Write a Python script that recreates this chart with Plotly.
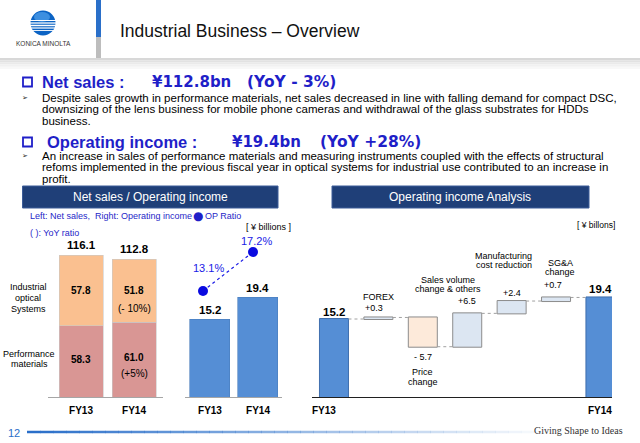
import plotly.graph_objects as go

W, H = 640, 443
def X(p): return p / W
def Y(p): return 1 - p / H

# ---------------- data ----------------
years = ["FY13", "FY14"]
perf_materials = [58.3, 61.0]
ind_optical = [57.8, 51.8]
net_sales_total = [116.1, 112.8]
perf_yoy = ["", "(+5%)"]
opt_yoy = ["", "(- 10%)"]
op_income = [15.2, 19.4]
op_ratio = [13.1, 17.2]

wf_cats = ["FY13", "FOREX", "Price change", "Sales volume", "Manufacturing", "SG&A", "FY14 "]
wf_values = [15.2, 0.3, -5.7, 6.5, 2.4, 0.7, 19.4]
wf_measure = ["absolute", "relative", "relative", "relative", "relative", "relative", "total"]
wf_value_labels = ["15.2", "+0.3", "- 5.7", "+6.5", "+2.4", "+0.7", "19.4"]

BLUE_TXT = "#1f1fc8"
ORANGE = "#FAC090"
PINK = "#D99694"
BARBLUE = "#558ED5"
NAVY = "#1F3F78"
FONT = "Liberation Sans, Arial, sans-serif"
WIDE = "DejaVu Sans, Liberation Sans, sans-serif"
NARROW = "Liberation Sans Narrow, Arial Narrow, Liberation Sans, sans-serif"

fig = go.Figure()

# ---------------- net sales stacked ----------------
fig.add_trace(go.Bar(x=years, y=perf_materials, marker=dict(color=PINK, line=dict(color="#c9c9c9", width=0.6)),
                     width=0.83, xaxis="x", yaxis="y", showlegend=False, hoverinfo="skip"))
fig.add_trace(go.Bar(x=years, y=ind_optical, marker=dict(color=ORANGE, line=dict(color="#c9c9c9", width=0.6)),
                     width=0.83, xaxis="x", yaxis="y", showlegend=False, hoverinfo="skip"))

# ---------------- operating income ----------------
fig.add_trace(go.Bar(x=years, y=op_income, marker=dict(color=BARBLUE, line=dict(color="#4a7dbd", width=0.6)),
                     width=0.833, xaxis="x2", yaxis="y2", showlegend=False, hoverinfo="skip"))
fig.add_trace(go.Scatter(x=years, y=op_ratio, mode="lines+markers", xaxis="x3", yaxis="y3",
                         line=dict(color="#1a1ae6", width=1.2, dash="dot"),
                         marker=dict(color="#0a0ae0", size=10), showlegend=False, hoverinfo="skip"))

# ---------------- waterfall ----------------
fig.add_trace(go.Waterfall(x=wf_cats, y=wf_values, measure=wf_measure, width=0.653,
                           xaxis="x4", yaxis="y4", showlegend=False, hoverinfo="skip",
                           increasing=dict(marker=dict(color="#DCE6F2", line=dict(color="#8c8c8c", width=1))),
                           decreasing=dict(marker=dict(color="#FDEADA", line=dict(color="#8c8c8c", width=1))),
                           totals=dict(marker=dict(color=BARBLUE, line=dict(color="#3f6fae", width=1))),
                           connector=dict(line=dict(color="#a0a0a0", width=1, dash="dot"))))

base_px, top_px = 397, 230
ns_scale = 142 / 116.1
op_scale = 78 / 15.2
ydom = [Y(base_px), Y(top_px)]

tickfont = dict(family=FONT, size=10, color="#000")
fig.update_layout(
    width=W, height=H, margin=dict(l=0, r=0, t=0, b=0),
    paper_bgcolor="white", plot_bgcolor="rgba(0,0,0,0)", barmode="stack",
    xaxis=dict(domain=[X(48), X(163)], anchor="y", range=[-0.623, 1.547], showline=True,
               linecolor="#a6a6a6", linewidth=1, showgrid=False, zeroline=False, ticks="",
               tickvals=years, ticktext=["<b>FY13</b>", "<b>FY14</b>"], tickfont=tickfont, ticklabelstandoff=4),
    yaxis=dict(domain=ydom, range=[0, (base_px - top_px) / ns_scale], visible=False),
    xaxis2=dict(domain=[X(185), X(282)], anchor="y2", range=[-0.52, 1.5], showline=True,
                linecolor="#a6a6a6", linewidth=1, showgrid=False, zeroline=False, ticks="",
                tickvals=years, ticktext=["<b>FY13</b>", "<b>FY14</b>"], tickfont=tickfont, ticklabelstandoff=4),
    yaxis2=dict(domain=ydom, anchor="x2", range=[0, (base_px - top_px) / op_scale], visible=False),
    xaxis3=dict(overlaying="x2", anchor="y3", range=[-0.36, 1.58], visible=False),
    yaxis3=dict(overlaying="y2", anchor="x3", range=[1.95, 19.51], visible=False),
    xaxis4=dict(domain=[X(312), X(612)], anchor="y4", range=[-0.495, 6.26], showline=True,
                linecolor="#202020", linewidth=1, showgrid=False, zeroline=False, showticklabels=False),
    yaxis4=dict(domain=ydom, anchor="x4", range=[0, (base_px - top_px) / op_scale], visible=False),
)

shapes = []
ann = []

def txt(x, y, s, size=10, color="#000", family=FONT, xanchor="center", bold=False, **kw):
    if bold:
        s = "<b>" + s + "</b>"
    ann.append(dict(x=X(x), y=Y(y), xref="paper", yref="paper", text=s, showarrow=False,
                    xanchor=xanchor, yanchor="middle", font=dict(size=size, color=color, family=family), **kw))

def dtxt(xref, yref, x, y, s, size=10, color="#000", bold=False, yshift=0, xshift=0, family=FONT):
    if bold:
        s = "<b>" + s + "</b>"
    ann.append(dict(x=x, y=y, xref=xref, yref=yref, text=s, showarrow=False, yshift=yshift, xshift=xshift,
                    xanchor="center", yanchor="middle", font=dict(size=size, color=color, family=family)))

def rect(x0, y0, x1, y1, fill, line=None, lw=0):
    shapes.append(dict(type="rect", xref="paper", yref="paper", x0=X(x0), x1=X(x1), y0=Y(y1), y1=Y(y0),
                       fillcolor=fill, line=dict(color=line or fill, width=lw), layer="below"))

# ---------------- header ----------------
for i, c in enumerate(["#d8d8d8", "#e2e2e2", "#eaeaea", "#f1f1f1", "#f8f8f8"]):
    rect(0, 58 + i * 2.2, W, 60.2 + i * 2.2, c)
rect(96, 0, 101, 37, "#2a6fc9")
rect(96, 37, 101, 58, "#bdbdbd")
# logo
shapes.append(dict(type="circle", xref="paper", yref="paper", x0=X(30.5), x1=X(55.5), y0=Y(35.5), y1=Y(10.5),
                   fillcolor="#0b63c4", line=dict(color="#0b63c4", width=0)))
shapes.append(dict(type="circle", xref="paper", yref="paper", x0=X(34), x1=X(50), y0=Y(22), y1=Y(12),
                   fillcolor="#3d8fe0", line=dict(width=0)))
for yy, w in [(20.5, 1.0), (23, 1.3), (25.5, 1.5), (28, 1.2), (30.5, 0.9)]:
    shapes.append(dict(type="line", xref="paper", yref="paper", x0=X(28), x1=X(58), y0=Y(yy), y1=Y(yy),
                       line=dict(color="white", width=w)))
txt(43, 44, "KONICA MINOLTA", size=6.5, color="#333", family=FONT)
txt(118, 31, "Industrial Business – Overview", size=17.5, color="#111", xanchor="left")

# ---------------- headings & body ----------------
for (yb) in [82, 142]:
    shapes.append(dict(type="rect", xref="paper", yref="paper", x0=X(23), x1=X(32), y0=Y(yb + 4.5), y1=Y(yb - 4.5),
                       line=dict(color=BLUE_TXT, width=1.8), fillcolor="white"))
txt(40, 82, "Net sales :", size=16.5, color=BLUE_TXT, xanchor="left", bold=True)
txt(150, 81.5, "¥112.8bn", size=15, color=BLUE_TXT, xanchor="left", bold=True, family=WIDE)
txt(245, 81.5, "(YoY - 3%)", size=15.5, color=BLUE_TXT, xanchor="left", bold=True, family=WIDE)
txt(45, 142, "Operating income :", size=16.5, color=BLUE_TXT, xanchor="left", bold=True)
txt(230, 141.5, "¥19.4bn", size=15, color=BLUE_TXT, xanchor="left", bold=True, family=WIDE)
txt(318, 141.5, "(YoY +28%)", size=15.5, color=BLUE_TXT, xanchor="left", bold=True, family=WIDE)

body1 = ["Despite sales growth in performance materials, net sales decreased in line with falling demand for compact DSC,",
         "downsizing of the lens business for mobile phone cameras and withdrawal of the glass substrates for HDDs",
         "business."]
body2 = ["An increase in sales of performance materials and measuring instruments coupled with the effects of structural",
         "refoms implemented in the previous fiscal year in optical systems for industrial use contributed to an increase in",
         "profit."]
for lines, y0 in [(body1, 98), (body2, 156)]:
    txt(25, y0, "➢", size=7, family="DejaVu Sans", color="#222")
    for i, l in enumerate(lines):
        txt(40, y0 + i * 11.3, l, size=11.5, family=NARROW, xanchor="left")

# ---------------- panel headers ----------------
rect(22.5, 186, 278, 208, NAVY, line="#3c5c98", lw=1)
rect(332, 186, 589, 208, NAVY, line="#3c5c98", lw=1)
txt(150, 197, "Net sales / Operating income", size=12, color="white")
txt(460, 197, "Operating income Analysis", size=12, color="white")

txt(28, 216, "Left: Net sales,  Right: Operating income", size=9, color=BLUE_TXT, xanchor="left")
txt(198, 216, "●", size=12, color=BLUE_TXT, family="DejaVu Sans")
txt(203, 216, "OP Ratio", size=9, color=BLUE_TXT, xanchor="left")
txt(28, 233, "( ): YoY ratio", size=9, color=BLUE_TXT, xanchor="left")
txt(268, 227, "[ ¥ billions ]", size=9)
txt(617, 225, "[ ¥ billons]", size=8.5, xanchor="right")

# ---------------- net sales labels ----------------
for i, yr in enumerate(years):
    dtxt("x", "y", yr, net_sales_total[i], f"{net_sales_total[i]:.1f}", size=11.5, bold=True, yshift=10)
    dtxt("x", "y", yr, perf_materials[i] + ind_optical[i] / 2, f"{ind_optical[i]:.1f}", size=10, bold=True, yshift=0)
    dtxt("x", "y", yr, perf_materials[i] / 2, f"{perf_materials[i]:.1f}", size=10, bold=True, yshift=2)
    if opt_yoy[i]:
        dtxt("x", "y", yr, perf_materials[i] + ind_optical[i] / 2, opt_yoy[i], size=10, yshift=-18)
    if perf_yoy[i]:
        dtxt("x", "y", yr, perf_materials[i] / 2, perf_yoy[i], size=10, yshift=-14)
txt(28, 287, "Industrial", size=9)
txt(28, 298, "optical", size=9)
txt(28, 308.5, "Systems", size=9)
txt(29, 354, "Performance", size=9)
txt(29, 364, "materials", size=9)

# ---------------- OP labels ----------------
for i, yr in enumerate(years):
    dtxt("x2", "y2", yr, op_income[i], f"{op_income[i]:.1f}", size=11.5, bold=True, yshift=9)
dtxt("x3", "y3", years[0], op_ratio[0], f"{op_ratio[0]:.1f}%", size=11, color="#1a1ae6", yshift=23, xshift=5)
dtxt("x3", "y3", years[1], op_ratio[1], f"{op_ratio[1]:.1f}%", size=11, color="#1a1ae6", yshift=11, xshift=3)

# ---------------- waterfall labels ----------------
cum = []
s = 0
for v, m in zip(wf_values, wf_measure):
    if m == "absolute":
        s = v
    elif m == "relative":
        s += v
    cum.append(s)
dtxt("x4", "y4", wf_cats[0], cum[0], wf_value_labels[0], size=11.5, bold=True, yshift=7)
dtxt("x4", "y4", wf_cats[6], cum[6], wf_value_labels[6], size=11.5, bold=True, yshift=8)
dtxt("x4", "y4", wf_cats[1], cum[1], wf_value_labels[1], size=9, yshift=9, xshift=-4)
dtxt("x4", "y4", wf_cats[1], cum[1], "FOREX", size=9, yshift=20)
dtxt("x4", "y4", wf_cats[2], cum[2], wf_value_labels[2], size=9, yshift=-10)
dtxt("x4", "y4", wf_cats[2], cum[2], "Price", size=9, yshift=-25)
dtxt("x4", "y4", wf_cats[2], cum[2], "change", size=9, yshift=-35)
dtxt("x4", "y4", wf_cats[3], cum[3], wf_value_labels[3], size=9, yshift=12)
dtxt("x4", "y4", wf_cats[3], cum[3], "Sales volume", size=9, yshift=33, xshift=-19)
dtxt("x4", "y4", wf_cats[3], cum[3], "change & others", size=9, yshift=24, xshift=-19)
dtxt("x4", "y4", wf_cats[4], cum[4], wf_value_labels[4], size=9, yshift=8)
dtxt("x4", "y4", wf_cats[4], cum[4], "Manufacturing", size=9, yshift=45, xshift=-8)
dtxt("x4", "y4", wf_cats[4], cum[4], "cost reduction", size=9, yshift=36, xshift=-8)
dtxt("x4", "y4", wf_cats[5], cum[5], wf_value_labels[5], size=9, yshift=12, xshift=-3)
dtxt("x4", "y4", wf_cats[5], cum[5], "SG&A", size=9, yshift=34, xshift=4)
dtxt("x4", "y4", wf_cats[5], cum[5], "change", size=9, yshift=25, xshift=4)
dtxt("x4", "paper", wf_cats[0], Y(410), "FY13", size=10, bold=True, xshift=-10)
dtxt("x4", "paper", wf_cats[6], Y(410), "FY14", size=10, bold=True)

# ---------------- footer ----------------
txt(14, 433, "12", size=11, color="#2a6fc9")
n = 40
for i in range(n):
    x0 = 27 + i * (520 / n)
    a = 1 - i / n
    shapes.append(dict(type="line", xref="paper", yref="paper", x0=X(x0), x1=X(x0 + 520 / n + 0.5), y0=Y(432), y1=Y(432),
                       line=dict(color=f"rgba(42,111,201,{a:.3f})", width=2.5)))
txt(578, 430, "Giving Shape to Ideas", size=10, family="Liberation Serif, DejaVu Serif, serif", color="#333")

fig.update_layout(shapes=shapes, annotations=ann)
fig.write_html("out.html", config={"displayModeBar": False},
               post_script="document.body.style.margin='0';document.body.style.padding='0';")
